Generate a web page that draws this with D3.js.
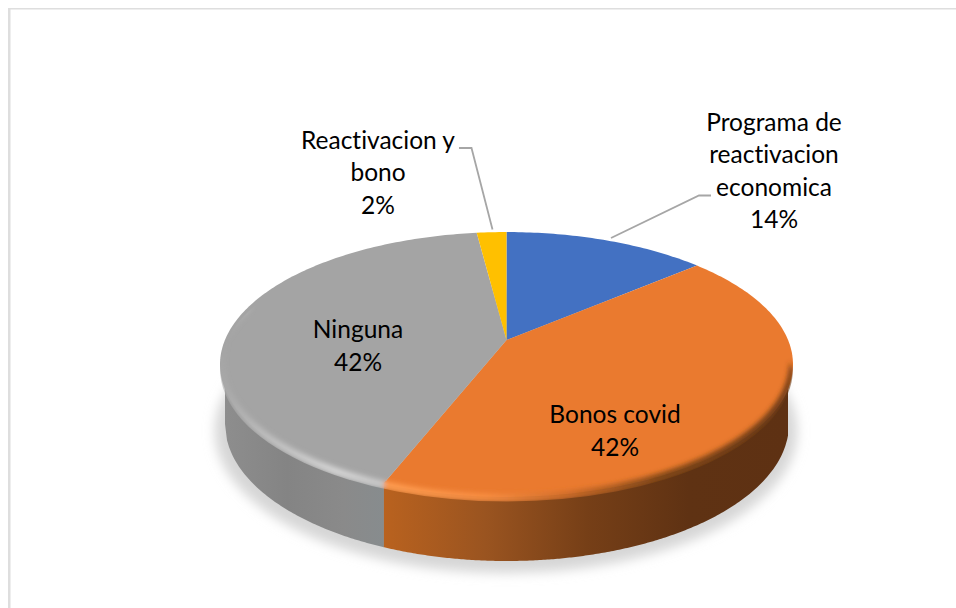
<!DOCTYPE html>
<html><head><meta charset="utf-8">
<script src="https://cdn.jsdelivr.net/npm/d3@7"></script>
<style>html,body{margin:0;padding:0;background:#fff}svg{display:block}text{font-family:Lato,"Open Sans",sans-serif;font-size:24.5px;fill:#000;font-variant-ligatures:none}</style>
</head><body><svg id="c" width="956" height="608"></svg>
<script>
const categories = ["Programa de reactivacion economica", "Bonos covid", "Ninguna", "Reactivacion y bono"];
const values = [13.7, 42.2, 42.1, 2];
const percentLabels = ["14%", "42%", "42%", "2%"];
const colors = ["#4371c2", "#ea7a2f", "#a4a4a4", "#ffc000"];
const labelLines = [["Programa de","reactivacion","economica","14%"],["Bonos covid","42%"],["Ninguna","42%"],["Reactivacion y","bono","2%"]];
const labelPos = [[774,130.5],[615,423],[358,338],[378,148.5]];

const svg = d3.select("#c");
const defs = svg.append("defs");
const cx = 506.5, rx = 286.5, P = 0.185, A = rx*Math.sqrt(1-P*P), ay = -65, by = 340;
function proj(t, r=1){ const u=r*Math.sin(t), v=r*Math.cos(t), w=1+P*v; return [cx+A*u/w,(ay*v+by)/w]; }
const pieGen = d3.pie().sort(null).value(d=>d);
const arcs = pieGen(values);
const line = d3.line();
function slicePath(a,r=1){
  const n=Math.max(4,Math.ceil((a.endAngle-a.startAngle)*60));
  const pts=[proj(0,0)];
  for(let i=0;i<=n;i++) pts.push(proj(a.startAngle+(a.endAngle-a.startAngle)*i/n,r));
  return line(pts)+"Z";
}
svg.append("rect").attr("x",8).attr("y",8).attr("width",2.5).attr("height",600).attr("fill","#dedede");
svg.append("rect").attr("x",8).attr("y",8).attr("width",948).attr("height",1.5).attr("fill","#dedede");

defs.append("filter").attr("id","blur").attr("x","-10%").attr("y","-10%").attr("width","120%").attr("height","120%")
  .append("feGaussianBlur").attr("stdDeviation",6);
const wallCx=507, wallCy=424, wallRy=137, wallRx=282;
svg.append("ellipse").attr("cx",506).attr("cy",wallCy+7).attr("rx",wallRx+9).attr("ry",wallRy+5)
  .attr("fill","#d6d6d6").attr("filter","url(#blur)");

function grad(id,stops,x1,x2){
  const g=defs.append("linearGradient").attr("id",id).attr("gradientUnits","userSpaceOnUse")
    .attr("x1",x1).attr("x2",x2).attr("y1",0).attr("y2",0);
  stops.forEach(s=>g.append("stop").attr("offset",s[0]).attr("stop-color",s[1]));
}
grad("wallGray",[[0,"#8e8e8e"],[0.4,"#848484"],[0.75,"#8a8a8a"],[1,"#878c8e"]],222,384);
grad("wallOrange",[[0,"#b9621f"],[0.25,"#9a5420"],[0.5,"#763f17"],[0.75,"#5f3213"],[1,"#5e3113"]],384,790);

function wallPath(x0,x1){
  const topEll=x=>365+132.5*Math.sqrt(Math.max(0,1-((x-cx)/rx)**2));
  const botEll=x=>wallCy+wallRy*Math.sqrt(Math.max(0,1-((x-wallCx)/wallRx)**2));
  const xs=d3.range(x0,x1,2).concat([x1]);
  return line(xs.map(x=>[x,topEll(x)-4]).concat(xs.slice().reverse().map(x=>[x,botEll(x)])))+"Z";
}
const splitX=proj(arcs[1].endAngle)[0];
svg.append("path").attr("d",wallPath(splitX,788)).attr("fill","url(#wallOrange)");
svg.append("path").attr("d",wallPath(225,splitX+0.6)).attr("fill","url(#wallGray)");

const g=svg.append("g");
g.selectAll("path").data(arcs).join("path").attr("d",d=>slicePath(d)).attr("fill",(d,i)=>colors[i]);

defs.append("filter").attr("id","soft").attr("x","-5%").attr("y","-10%").attr("width","110%").attr("height","120%")
  .append("feGaussianBlur").attr("stdDeviation",2.6);
defs.append("clipPath").attr("id","faceClip").append("ellipse").attr("cx",cx).attr("cy",369).attr("rx",rx).attr("ry",132.5);
grad("rimGrad",[[0,"#a8a8a8"],[0.25,"#bcbcbc"],[0.7,"#d4d4d4"],[1,"#c8c8c8"]],222,384);
grad("rimOrange",[[0,"#ff9d52"],[0.25,"#f88e42"],[0.45,"#cf6d2a"],[0.68,"#824817"],[1,"#6b3914"]],384,792);
const rim=svg.append("g").attr("clip-path","url(#faceClip)").append("g").attr("filter","url(#soft)");
function rimPath(t0,t1){
  const n=80,o=[],inner=[];
  for(let i=0;i<=n;i++){const t=t0+(t1-t0)*i/n;const p=proj(t);o.push([p[0],p[1]+5]);inner.push([p[0]-(p[0]-cx)*0.012,p[1]-3]);}
  return line(o.concat(inner.reverse()))+"Z";
}
const gStart=arcs[1].endAngle, gEnd=gStart+(arcs[2].endAngle-arcs[2].startAngle)*0.56;
rim.append("path").attr("d",rimPath(Math.PI*0.56,gStart)).attr("fill","url(#rimOrange)");
rim.append("path").attr("d",rimPath(gStart,gEnd)).attr("fill","url(#rimGrad)");

const leaderX=[[[611,238],[699,195.5],[711,195.5]],[[492.5,229.5],[471.5,148],[459,148]]];
svg.selectAll("path.leader").data(leaderX).join("path").attr("class","leader")
  .attr("d",d=>line(d)).attr("fill","none").attr("stroke","#a6a6a6").attr("stroke-width",1.8);

labelLines.forEach((ls,i)=>{
  const t=svg.append("text").attr("text-anchor","middle");
  ls.forEach((s,j)=>t.append("tspan").attr("x",labelPos[i][0]).attr("y",labelPos[i][1]+j*32.5).text(s));
});
</script></body></html>
